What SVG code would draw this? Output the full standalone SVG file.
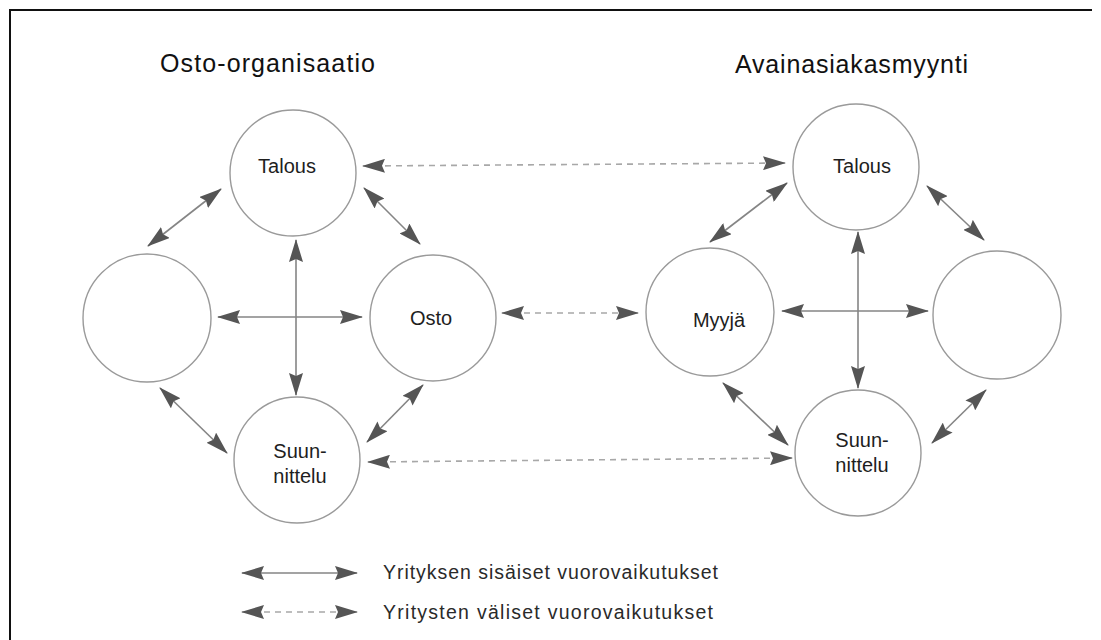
<svg xmlns="http://www.w3.org/2000/svg" width="1101" height="640" viewBox="0 0 1101 640">
  <defs>
    <marker id="head" viewBox="0 0 23 14" markerUnits="userSpaceOnUse" markerWidth="23" markerHeight="14" refX="22" refY="7" orient="auto-start-reverse">
      <path d="M0,0 L23,7 L0,14 L3,7 z" fill="#555"/>
    </marker>
    <style>
      .node circle { fill: #fff; stroke: #9a9a9a; stroke-width: 1.4; }
      .lbl { font-family: "Liberation Sans", Arial, sans-serif; font-size: 20px; fill: #1e1e1e; text-anchor: middle; }
      .title { font-family: "Liberation Sans", Arial, sans-serif; font-size: 25px; fill: #111; }
      .legend { font-family: "Liberation Sans", Arial, sans-serif; font-size: 19.5px; fill: #2a2a2a; }
      .solid { stroke: #858585; stroke-width: 1.6; fill: none; marker-start: url(#head); marker-end: url(#head); }
      .dash { stroke: #a8a8a8; stroke-width: 1.6; fill: none; stroke-dasharray: 6 5; marker-start: url(#head); marker-end: url(#head); }
    </style>
  </defs>

  <rect width="1101" height="640" fill="#fff"/>
  <!-- frame: top and left edges -->
  <path d="M10,640 V10 H1092" fill="none" stroke="#111" stroke-width="2"/>

  <!-- group headings -->
  <text class="title" x="160" y="72" textLength="215" lengthAdjust="spacing">Osto-organisaatio</text>
  <text class="title" x="735" y="73" textLength="233" lengthAdjust="spacing">Avainasiakasmyynti</text>

  <!-- buying organisation -->
  <g id="buy-talous" class="node"><circle cx="293" cy="173" r="63"/><text class="lbl" x="287" y="173">Talous</text></g>
  <g id="buy-empty" class="node"><circle cx="147" cy="318" r="64"/></g>
  <g id="buy-osto" class="node"><circle cx="433" cy="318" r="63"/><text class="lbl" x="431" y="325">Osto</text></g>
  <g id="buy-suunnittelu" class="node"><circle cx="297" cy="460" r="63"/><text class="lbl" x="300" y="458">Suun-</text><text class="lbl" x="300" y="483">nittelu</text></g>

  <!-- key account selling -->
  <g id="sell-talous" class="node"><circle cx="856" cy="167" r="63"/><text class="lbl" x="862" y="173">Talous</text></g>
  <g id="sell-myyja" class="node"><circle cx="710" cy="312" r="64"/><text class="lbl" x="719" y="327">Myyjä</text></g>
  <g id="sell-empty" class="node"><circle cx="997" cy="315" r="64"/></g>
  <g id="sell-suunnittelu" class="node"><circle cx="858" cy="453" r="63"/><text class="lbl" x="862" y="447">Suun-</text><text class="lbl" x="862" y="472">nittelu</text></g>

  <!-- interactions -->
  <g id="connectors">
    <!-- within the buying organisation -->
    <line class="solid" x1="148" y1="246" x2="221" y2="189"/>
    <line class="solid" x1="364" y1="188" x2="420" y2="244"/>
    <line class="solid" x1="218" y1="317" x2="362" y2="317"/>
    <line class="solid" x1="296" y1="240" x2="296" y2="395"/>
    <line class="solid" x1="160" y1="388" x2="227" y2="453"/>
    <line class="solid" x1="423" y1="385" x2="367" y2="442"/>
    <!-- within key account selling -->
    <line class="solid" x1="787" y1="183" x2="710" y2="242"/>
    <line class="solid" x1="927" y1="186" x2="984" y2="240"/>
    <line class="solid" x1="782" y1="311" x2="928" y2="311"/>
    <line class="solid" x1="858" y1="232" x2="858" y2="388"/>
    <line class="solid" x1="723" y1="383" x2="788" y2="445"/>
    <line class="solid" x1="932" y1="443" x2="986" y2="390"/>
    <!-- between the companies -->
    <line class="dash" x1="363" y1="166" x2="785" y2="163"/>
    <line class="dash" x1="502" y1="313" x2="638" y2="313"/>
    <line class="dash" x1="368" y1="462" x2="792" y2="458"/>
  </g>

  <!-- key -->
  <g id="legend">
    <line class="solid" x1="242" y1="573" x2="357" y2="573"/>
    <line class="dash" x1="242" y1="612" x2="357" y2="612"/>
    <text class="legend" x="383" y="579" textLength="335" lengthAdjust="spacing">Yrityksen sisäiset vuorovaikutukset</text>
    <text class="legend" x="383" y="619" textLength="330" lengthAdjust="spacing">Yritysten väliset vuorovaikutukset</text>
  </g>
</svg>
